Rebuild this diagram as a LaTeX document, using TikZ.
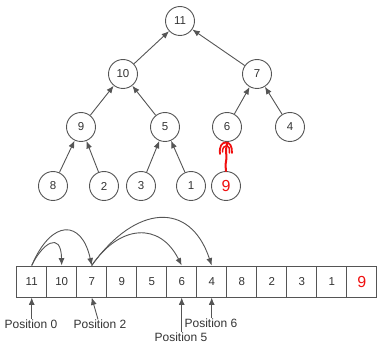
\documentclass[tikz,border=0pt]{standalone}
\usepackage{fontspec}
\setmainfont{Liberation Sans}
\usetikzlibrary{arrows.meta}
\definecolor{ln}{HTML}{555555}
\definecolor{tx}{HTML}{333333}
\definecolor{rd}{HTML}{F01010}
\begin{document}
\begin{tikzpicture}[x=1pt,y=-1pt,
  hnode/.style={circle,draw=ln,line width=0.9pt,minimum size=29pt,inner sep=0pt,text=tx,font=\fontsize{11.5}{12}\selectfont},
  cell/.style={draw=ln,line width=0.9pt,minimum width=30pt,minimum height=31pt,inner sep=0pt,text=tx,font=\fontsize{11.5}{12}\selectfont},
  tarr/.style={draw=ln,line width=0.9pt,-{Latex[length=7.5pt,width=6pt]}},
  lbl/.style={text=tx,font=\fontsize{12}{13}\selectfont,inner sep=0pt}]
\useasboundingbox (0,0) rectangle (384,350);
% tree
\node[hnode] (n11) at (180,21) {11};
\node[hnode] (n10) at (123,74) {10};
\node[hnode] (n7) at (257,74) {7};
\node[hnode] (n9) at (81,127) {9};
\node[hnode] (n5) at (165,127) {5};
\node[hnode] (n6) at (227,127) {6};
\node[hnode] (n4) at (290,127) {4};
\node[hnode] (n8) at (53,186) {8};
\node[hnode] (n2) at (104,186) {2};
\node[hnode] (n3) at (141,186) {3};
\node[hnode] (n1) at (191,186) {1};
\node[hnode,text=rd,font=\fontsize{16}{17}\selectfont] (n9r) at (226,186) {9};
\draw[tarr] (n10) -- (n11);
\draw[tarr] (n7) -- (n11);
\draw[tarr] (n9) -- (n10);
\draw[tarr] (n5) -- (n10);
\draw[tarr] (n6) -- (n7);
\draw[tarr] (n4) -- (n7);
\draw[tarr] (n8) -- (n9);
\draw[tarr] (n2) -- (n9);
\draw[tarr] (n3) -- (n5);
\draw[tarr] (n1) -- (n5);
% hand-drawn red arrow
\draw[rd,line width=2pt,line cap=round,line join=round]
  (n9r.north) -- (225.5,165) -- (226.5,158) -- (226,150) -- (227,143);
\draw[rd,line width=1.8pt,line cap=round,line join=round]
  (220,154) .. controls (219,146) and (222,142.5) .. (226,142.5)
  .. controls (230,142.5) and (232,146) .. (232,153);
\draw[rd,line width=1.5pt,line cap=round]
  (222.5,152) .. controls (222.5,148) and (224,145.5) .. (227,145.5)
  .. controls (229.5,146) and (229.5,149) .. (229.5,153);
% array
\foreach \v [count=\i from 0] in {11,10,7,9,5,6,4,8,2,3,1} {
  \node[cell] (c\i) at (31.7+30*\i,281.5) {\v};
}
\node[cell,text=rd,font=\fontsize{16}{17}\selectfont] (c11) at (31.7+330,281.5) {9};
\draw[tarr] (c0.north) .. controls (42,244) and (61,230) .. (c1.north);
\draw[tarr] (c0.north) .. controls (52,218) and (82,220) .. (c2.north);
\draw[tarr] (c2.north) .. controls (120,224) and (160,222) .. (c5.north);
\draw[tarr] (c2.north) .. controls (135,205) and (190,200) .. (c6.north);
% labels
\node[lbl] (p0) at (31,324) {Position 0};
\node[lbl] (p2) at (100,324) {Position 2};
\node[lbl] (p5) at (181,337) {Position 5};
\node[lbl] (p6) at (211,323) {Position 6};
\draw[tarr] (p0.north -| c0.south) -- (c0.south);
\draw[tarr] ([xshift=-2pt]p2.north) -- (c2.south);
\draw[tarr] (p5.north -| c5.south) -- (c5.south);
\draw[tarr] (p6.north -| c6.south) -- (c6.south);
\end{tikzpicture}
\end{document}
